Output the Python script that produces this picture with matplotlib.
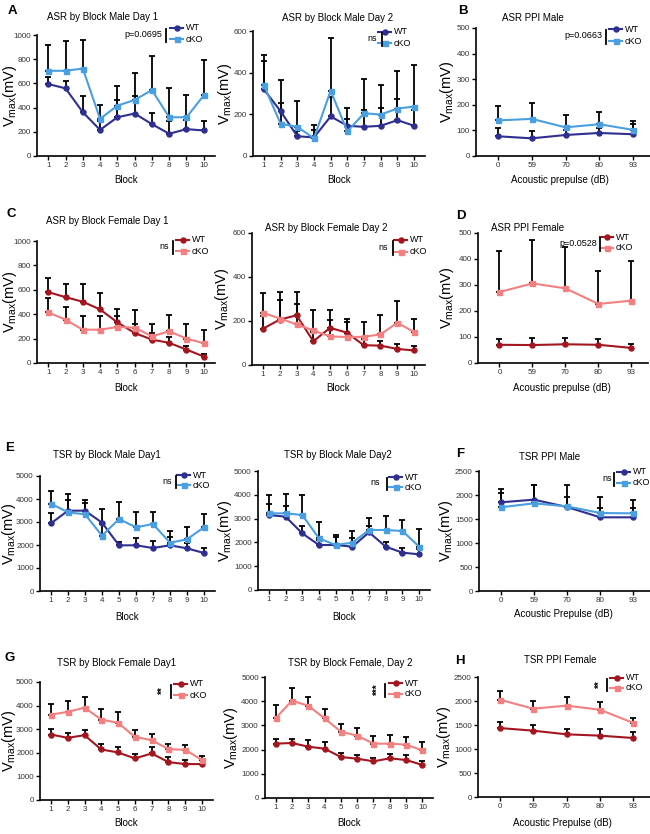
import matplotlib.pyplot as plt
from matplotlib.lines import Line2D

W, H = 650, 834
plt.rcParams['font.family'] = ['Liberation Sans', 'DejaVu Sans']
plt.rcParams['mathtext.fontset'] = 'custom'
plt.rcParams['mathtext.rm'] = 'Liberation Sans'
plt.rcParams['mathtext.it'] = 'Liberation Sans:italic'

blocks = list(range(1, 11))
prepulse = ['0', '59', '70', '80', '93']

# ASR male
asr_m1_wt = [595, 559, 362, 216, 320, 351, 263, 184, 222, 211]
asr_m1_wt_err = [55, 61, 134, 74, 145, 149, 93, 106, 78, 81]
asr_m1_ko = [704, 704, 723, 307, 416, 463, 545, 320, 320, 501]
asr_m1_ko_err = [216, 244, 236, 115, 162, 225, 280, 242, 187, 291]

asr_m2_wt = [320, 215, 95, 89, 190, 145, 140, 145, 172, 145]
asr_m2_wt_err = [137, 38, 25, 35, 95, 32, 81, 87, 100, 76]
asr_m2_ko = [340, 155, 140, 85, 313, 118, 205, 199, 228, 237]
asr_m2_ko_err = [147, 211, 122, 63, 252, 111, 164, 142, 181, 201]

asr_ppi_m_wt = [77, 69, 82, 90, 85]
asr_ppi_m_wt_err = [32, 30, 18, 20, 40]
asr_ppi_m_ko = [139, 145, 112, 124, 102]
asr_ppi_m_ko_err = [55, 62, 47, 47, 35]

# ASR female
asr_f1_wt = [581, 540, 502, 439, 333, 246, 192, 165, 110, 53]
asr_f1_wt_err = [119, 110, 148, 136, 107, 74, 51, 50, 30, 17]
asr_f1_ko = [415, 355, 273, 273, 295, 290, 219, 260, 200, 162]
asr_f1_ko_err = [120, 103, 109, 109, 90, 141, 103, 133, 120, 106]

asr_f2_wt = [165, 206, 226, 108, 169, 147, 90, 88, 73, 66]
asr_f2_wt_err = [56, 89, 49, 42, 80, 48, 28, 22, 22, 19]
asr_f2_ko = [238, 211, 185, 157, 130, 127, 128, 139, 192, 150]
asr_f2_ko_err = [87, 122, 148, 92, 73, 84, 69, 87, 98, 61]

asr_ppi_f_wt = [70, 69, 72, 70, 58]
asr_ppi_f_wt_err = [22, 26, 25, 22, 15]
asr_ppi_f_ko = [273, 306, 287, 227, 240]
asr_ppi_f_ko_err = [156, 168, 159, 128, 151]

# TSR male
tsr_m1_wt = [2942, 3493, 3493, 2971, 1986, 1986, 1870, 1986, 1855, 1652]
tsr_m1_wt_err = [435, 478, 449, 580, 159, 304, 318, 347, 231, 203]
tsr_m1_ko = [3797, 3420, 3333, 2406, 3130, 2768, 2913, 2101, 2246, 2768]
tsr_m1_ko_err = [565, 783, 479, 494, 754, 652, 536, 493, 522, 594]

tsr_m2_wt = [3151, 3081, 2381, 1891, 1891, 1821, 2423, 1821, 1569, 1499]
tsr_m2_wt_err = [462, 448, 322, 209, 322, 350, 280, 210, 210, 210]
tsr_m2_ko = [3221, 3221, 3151, 2171, 1891, 1989, 2521, 2521, 2479, 1821]
tsr_m2_ko_err = [771, 813, 827, 686, 420, 490, 518, 582, 471, 728]

tsr_ppi_m_wt = [1847, 1903, 1750, 1535, 1535]
tsr_ppi_m_wt_err = [283, 297, 200, 187, 187]
tsr_ppi_m_ko = [1743, 1826, 1764, 1625, 1618]
tsr_ppi_m_ko_err = [297, 374, 436, 325, 282]

# TSR female
tsr_f1_wt = [2775, 2634, 2746, 2141, 2014, 1761, 1972, 1606, 1521, 1521]
tsr_f1_wt_err = [225, 211, 240, 225, 225, 183, 281, 197, 169, 159]
tsr_f1_ko = [3620, 3732, 3915, 3408, 3268, 2676, 2535, 2155, 2127, 1690]
tsr_f1_ko_err = [436, 479, 437, 465, 478, 310, 254, 197, 197, 183]

tsr_f2_wt = [2245, 2273, 2121, 2039, 1694, 1625, 1515, 1639, 1570, 1364]
tsr_f2_wt_err = [193, 165, 289, 261, 165, 165, 152, 179, 193, 151]
tsr_f2_ko = [3292, 4022, 3815, 3292, 2741, 2576, 2245, 2245, 2204, 1970]
tsr_f2_ko_err = [551, 523, 359, 399, 330, 330, 317, 345, 303, 330]

tsr_ppi_f_wt = [1437, 1382, 1306, 1278, 1229]
tsr_ppi_f_wt_err = [126, 111, 104, 132, 118]
tsr_ppi_f_ko = [2028, 1840, 1903, 1819, 1542]
tsr_ppi_f_ko_err = [173, 153, 180, 167, 97]

BLUE_WT, BLUE_KO = '#2e2f8f', '#4a9fe0'
RED_WT, RED_KO = '#a3161f', '#f28080'

fig = plt.figure(figsize=(6.5, 8.34), dpi=100)


def fx(x):
    return x / W


def fy(y):
    return 1 - y / H


def panel(rect, x, wt, wt_err, ko, ko_err, cols, ymax, ystep, title, title_xy,
          xlabel, xlabel_y, ylabel_x, ppi=False):
    l, r, t, b = rect
    ax = fig.add_axes([fx(l), fy(b), (r - l) / W, (b - t) / H])
    xs = list(range(len(x))) if ppi else x
    ax.errorbar(xs, wt, yerr=[[0] * len(wt), wt_err], fmt='none', ecolor='k',
                elinewidth=1.3, capsize=2.3, capthick=1.3, zorder=2)
    ax.errorbar(xs, ko, yerr=[[0] * len(ko), ko_err], fmt='none', ecolor='k',
                elinewidth=1.3, capsize=2.3, capthick=1.3, zorder=2)
    ax.plot(xs, wt, '-o', color=cols[0], ms=3.6, lw=1.5, zorder=3)
    ax.plot(xs, ko, '-s', color=cols[1], ms=3.6, lw=1.5, zorder=3)
    ax.set_ylim(0, ymax)
    ax.set_yticks(range(0, ymax + 1, ystep))
    if ppi:
        ax.set_xlim(-0.65, 4.5)
        ax.set_xticks(xs)
        ax.set_xticklabels(x)
    else:
        ax.set_xlim(0.35, 10.65)
        ax.set_xticks(x)
    for s in ['top', 'right']:
        ax.spines[s].set_visible(False)
    for s in ['left', 'bottom']:
        ax.spines[s].set_linewidth(1.2)
    ax.tick_params(direction='out', length=3, width=1, labelsize=5.8,
                   pad=1.5, colors='k', labelcolor='#333333')
    ax.patch.set_alpha(0)
    fig.text(fx(title_xy[0]), fy(title_xy[1]), title, ha='center', va='center',
             fontsize=7)
    fig.text(fx((l + r) / 2 if not ppi else l + 84), fy(xlabel_y), xlabel,
             ha='center', va='center', fontsize=7)
    fig.text(fx(ylabel_x), fy((t + b) / 2), r'V$_{\mathrm{max}}$(mV)',
             rotation=90, ha='center', va='center', fontsize=10.5)
    return ax


def legend(x0, y_wt, y_ko, cols, sig, sig_x, bar_x, stars=False):
    for y, c, m, lab in [(y_wt, cols[0], 'o', 'WT'), (y_ko, cols[1], 's', 'cKO')]:
        fig.add_artist(Line2D([fx(x0), fx(x0 + 13)], [fy(y), fy(y)], color=c, lw=1.5))
        fig.add_artist(Line2D([fx(x0 + 7)], [fy(y)], marker=m, color=c, ms=3.6))
        fig.text(fx(x0 + 16), fy(y), lab, ha='left', va='center', fontsize=6.5)
    fig.add_artist(Line2D([fx(bar_x), fx(bar_x)], [fy(y_wt + 1), fy(y_ko + 3)],
                          color='k', lw=1.3))
    ym = (y_wt + y_ko) / 2 + 1
    if stars:
        fig.text(fx(sig_x), fy(ym), sig, rotation=90, ha='center', va='center',
                 fontsize=7, fontweight='bold')
    else:
        fig.text(fx(sig_x), fy(ym), sig, ha='right', va='center', fontsize=6.5)


# row 1
panel((37, 215, 35, 156), blocks, asr_m1_wt, asr_m1_wt_err, asr_m1_ko, asr_m1_ko_err,
      (BLUE_WT, BLUE_KO), 1000, 200, 'ASR by Block Male Day 1', (103, 17), 'Block', 180, 10)
legend(170, 28, 39, (BLUE_WT, BLUE_KO), 'p=0.0695', 162, 166)
panel((253, 425, 31, 156), blocks, asr_m2_wt, asr_m2_wt_err, asr_m2_ko, asr_m2_ko_err,
      (BLUE_WT, BLUE_KO), 600, 200, 'ASR by Block Male Day 2', (338, 18), 'Block', 180, 225)
legend(378, 32, 43, (BLUE_WT, BLUE_KO), 'ns', 377, 382)
panel((476, 650, 28, 156), prepulse, asr_ppi_m_wt, asr_ppi_m_wt_err, asr_ppi_m_ko,
      asr_ppi_m_ko_err, (BLUE_WT, BLUE_KO), 500, 100, 'ASR PPI Male', (533, 18),
      'Acoustic prepulse (dB)', 180, 447, ppi=True)
legend(609, 29, 41, (BLUE_WT, BLUE_KO), 'p=0.0663', 602, 606)

# row 2
panel((37, 215, 241, 363), blocks, asr_f1_wt, asr_f1_wt_err, asr_f1_ko, asr_f1_ko_err,
      (RED_WT, RED_KO), 1000, 200, 'ASR by Block Female Day 1', (107, 221), 'Block', 388, 10)
legend(176, 240, 251, (RED_WT, RED_KO), 'ns', 169, 173)
panel((252, 425, 233, 365), blocks, asr_f2_wt, asr_f2_wt_err, asr_f2_ko, asr_f2_ko_err,
      (RED_WT, RED_KO), 600, 200, 'ASR by Block Female Day 2', (326, 228), 'Block', 388, 222)
legend(394, 240, 252, (RED_WT, RED_KO), 'ns', 388, 393)
panel((478, 648, 233, 363), prepulse, asr_ppi_f_wt, asr_ppi_f_wt_err, asr_ppi_f_ko,
      asr_ppi_f_ko_err, (RED_WT, RED_KO), 500, 100, 'ASR PPI Female', (528, 228),
      'Acoustic prepulse (dB)', 388, 447, ppi=True)
legend(600, 237, 248, (RED_WT, RED_KO), 'p=0.0528', 597, 600)

# row 3
panel((40, 215, 476, 591), blocks, tsr_m1_wt, tsr_m1_wt_err, tsr_m1_ko, tsr_m1_ko_err,
      (BLUE_WT, BLUE_KO), 5000, 1000, 'TSR by Block Male Day1', (107, 455), 'Block', 617, 8.5)
legend(177, 475, 485, (BLUE_WT, BLUE_KO), 'ns', 172, 176)
panel((258, 430, 471, 590), blocks, tsr_m2_wt, tsr_m2_wt_err, tsr_m2_ko, tsr_m2_ko_err,
      (BLUE_WT, BLUE_KO), 5000, 1000, 'TSR by Block Male Day2', (338, 455), 'Block', 617, 225)
legend(389, 477, 487, (BLUE_WT, BLUE_KO), 'ns', 380, 387)
panel((479, 650, 471, 591), prepulse, tsr_ppi_m_wt, tsr_ppi_m_wt_err, tsr_ppi_m_ko,
      tsr_ppi_m_ko_err, (BLUE_WT, BLUE_KO), 2500, 500, 'TSR PPI Male', (550, 457),
      'Acoustic Prepulse (dB)', 614, 446, ppi=True)
legend(617, 472, 483, (BLUE_WT, BLUE_KO), 'ns', 612, 614)

# row 4
panel((40, 213, 682, 800), blocks, tsr_f1_wt, tsr_f1_wt_err, tsr_f1_ko, tsr_f1_ko_err,
      (RED_WT, RED_KO), 5000, 1000, 'TSR by Block Female Day1', (117, 663), 'Block', 823, 8.5)
legend(174, 684, 695, (RED_WT, RED_KO), '**', 163, 171, stars=True)
panel((265, 433, 677, 798), blocks, tsr_f2_wt, tsr_f2_wt_err, tsr_f2_ko, tsr_f2_ko_err,
      (RED_WT, RED_KO), 5000, 1000, 'TSR by Block Female, Day 2', (350, 663), 'Block', 823, 231)
legend(389, 683, 694, (RED_WT, RED_KO), '***', 378, 385, stars=True)
panel((478, 650, 677, 797), prepulse, tsr_ppi_f_wt, tsr_ppi_f_wt_err, tsr_ppi_f_ko,
      tsr_ppi_f_ko_err, (RED_WT, RED_KO), 2500, 500, 'TSR PPI Female', (560, 660),
      'Acoustic Prepulse (dB)', 823, 444, ppi=True)
legend(610, 678, 688, (RED_WT, RED_KO), '**', 600, 607, stars=True)

for lab, x, y in [('A', 12, 11), ('B', 463, 11), ('C', 11, 214), ('D', 461, 216),
                  ('E', 10, 448), ('F', 460, 454), ('G', 10, 658), ('H', 460, 661)]:
    fig.text(fx(x), fy(y), lab, ha='center', va='center', fontsize=9.5, fontweight='bold')

fig.savefig('out.png', dpi=100, facecolor='white')
